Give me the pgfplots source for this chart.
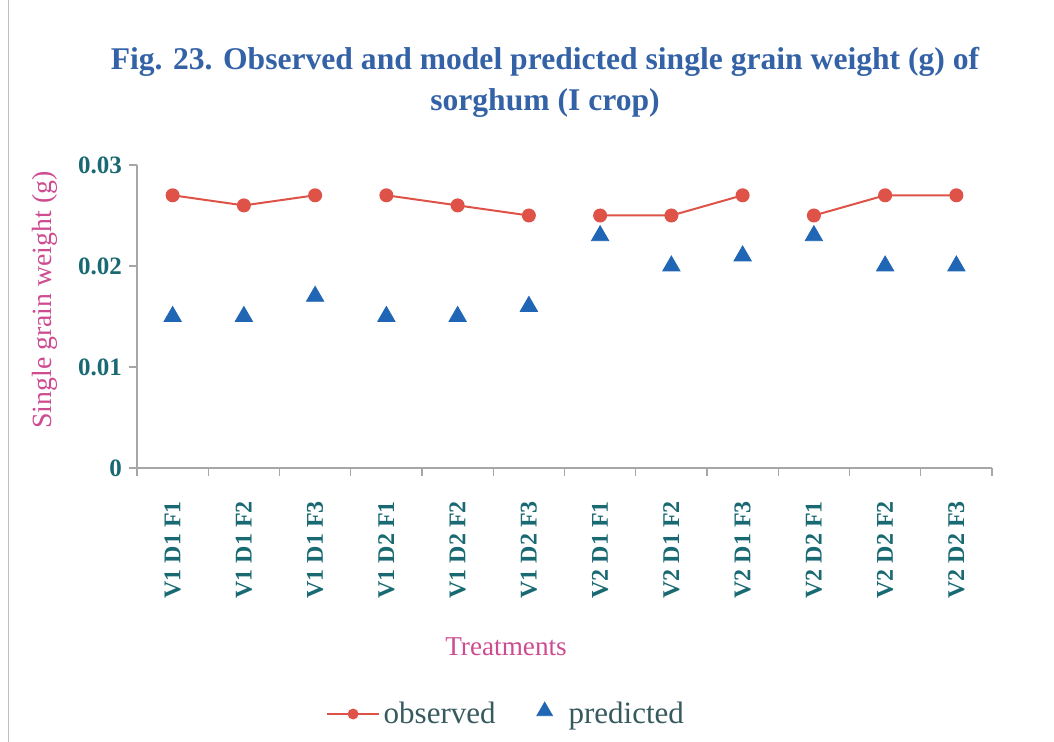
\documentclass[border=0pt]{standalone}
\usepackage{fontspec}
\setmainfont{Liberation Serif}
\usepackage{pgfplots}
\pgfplotsset{compat=1.18}
\definecolor{titleblue}{RGB}{52,98,166}
\definecolor{tickteal}{RGB}{25,105,115}
\definecolor{labelpink}{RGB}{205,75,145}
\definecolor{obsred}{RGB}{222,82,72}
\definecolor{predblue}{RGB}{32,102,180}
\definecolor{legtext}{RGB}{55,90,95}
\begin{document}
\begin{tikzpicture}[x=1pt,y=1pt]
\path[use as bounding box] (0,0) rectangle (527,371);
\draw[gray!50, line width=0.5pt] (4,0) -- (4,371);
\node[align=center, font=\fontsize{15.8}{20.5}\selectfont\bfseries, text=titleblue] at (272.5,330)
 {Fig. 23. Observed and model predicted single grain weight (g) of\\ sorghum (I crop)};
\begin{axis}[
 at={(68.5pt,137pt)}, anchor=south west,
 scale only axis, width=427.5pt, height=151.5pt,
 xmin=-0.5, xmax=11.5, ymin=0, ymax=0.03,
 axis x line*=bottom, axis y line*=left,
 axis line style={draw=gray!70, line width=0.6pt, -},
 tick style={draw=gray!70, line width=0.6pt},
 tick align=outside, major tick length=4pt,
 xtick={-0.5,0.5,...,11.5},
 x tick label as interval,
 xticklabels={V1 D1 F1,V1 D1 F2,V1 D1 F3,V1 D2 F1,V1 D2 F2,V1 D2 F3,V2 D1 F1,V2 D1 F2,V2 D1 F3,V2 D2 F1,V2 D2 F2,V2 D2 F3},
 xticklabel style={rotate=90, anchor=east, font=\fontsize{12}{12}\selectfont\bfseries, text=tickteal, xshift=-9pt},
 ytick={0,0.01,0.02,0.03},
 yticklabels={0,0.01,0.02,0.03},
 scaled y ticks=false,
 yticklabel style={font=\fontsize{12.5}{13}\selectfont\bfseries, text=tickteal},
 ylabel={Single grain weight (g)},
 ylabel style={at={(axis description cs:-0.1076,0.554)}, anchor=center, rotate=0, font=\fontsize{13.9}{14}\selectfont, text=labelpink},
 xlabel={Treatments},
 xlabel style={at={(axis description cs:0.4316,-0.591)}, anchor=center, font=\fontsize{13.6}{14}\selectfont, text=labelpink},
 legend style={at={(axis description cs:0.433,-0.812)}, anchor=center, draw=none, fill=none, font=\fontsize{15.5}{16}\selectfont, text=legtext, /tikz/every even column/.append style={column sep=14pt}},
 legend columns=2,
 clip=false,
]
\addplot[obsred, line width=1pt, mark=*, mark size=3pt, mark options={fill=obsred, draw=obsred},
 legend image code/.code={\draw[mark repeat=2,mark phase=2,mark size=2.2pt] plot coordinates {(0cm,0cm)(0.45cm,0cm)(0.9cm,0cm)};}] coordinates {(0,0.027)(1,0.026)(2,0.027)};
\addlegendentry{observed}
\addplot[obsred, line width=1pt, mark=*, mark size=3pt, mark options={fill=obsred, draw=obsred}, forget plot] coordinates {(3,0.027)(4,0.026)(5,0.025)};
\addplot[obsred, line width=1pt, mark=*, mark size=3pt, mark options={fill=obsred, draw=obsred}, forget plot] coordinates {(6,0.025)(7,0.025)(8,0.027)};
\addplot[obsred, line width=1pt, mark=*, mark size=3pt, mark options={fill=obsred, draw=obsred}, forget plot] coordinates {(9,0.025)(10,0.027)(11,0.027)};
\addplot[only marks, mark=triangle*, mark size=5pt, mark options={fill=predblue, draw=predblue},
 legend image code/.code={\path[draw=none,fill=none] (0cm,0cm) rectangle (0.65cm,0.1cm); \draw[mark size=4.5pt] plot coordinates {(0.3cm,0.05cm)};}] coordinates {(0,0.015)(1,0.015)(2,0.017)(3,0.015)(4,0.015)(5,0.016)(6,0.023)(7,0.020)(8,0.021)(9,0.023)(10,0.020)(11,0.020)};
\addlegendentry{predicted}
\end{axis}
\end{tikzpicture}
\end{document}
